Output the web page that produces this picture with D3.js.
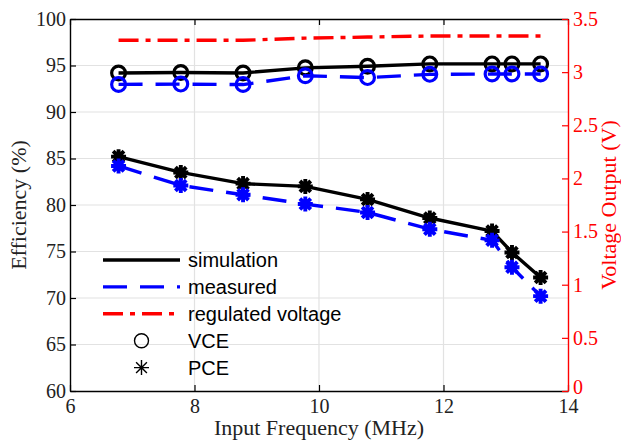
<!DOCTYPE html>
<html>
<head>
<meta charset="utf-8">
<script src="https://cdn.jsdelivr.net/npm/d3@7"></script>
<style>
  html, body { margin: 0; padding: 0; background: #fff; }
  svg { display: block; }
</style>
</head>
<body>
<svg id="chart" width="621" height="441"></svg>
<script>
// Input frequency (MHz)
const freq = [6.78, 7.78, 8.78, 9.78, 10.78, 11.78, 12.78, 13.1, 13.56];
// Voltage conversion efficiency (%)
const simVCE = [94.2, 94.25, 94.2, 94.75, 94.92, 95.17, 95.17, 95.17, 95.17];
const measVCE = [92.97, 93.0, 92.95, 93.9, 93.7, 94.05, 94.08, 94.08, 94.08];
// Power conversion efficiency (%)
const simPCE = [85.2, 83.5, 82.3, 82.0, 80.6, 78.6, 77.2, 74.9, 72.2];
const measPCE = [84.2, 82.1, 81.1, 80.1, 79.2, 77.4, 76.2, 73.3, 70.2];
// Regulated output voltage (V)
const voltage = [3.30, 3.30, 3.30, 3.32, 3.33, 3.34, 3.34, 3.34, 3.34];

const xTicks = [6, 8, 10, 12, 14];
const effTicks = [60, 65, 70, 75, 80, 85, 90, 95, 100];
const voltTicks = [0, 0.5, 1, 1.5, 2, 2.5, 3, 3.5];

const legendItems = ["simulation", "measured", "regulated voltage", "VCE", "PCE"];

const m = { left: 70, right: 568, top: 19, bottom: 391 };
const serif = "'Liberation Serif', 'Times New Roman', serif";
const sans = "'Liberation Sans', Arial, sans-serif";
const BLUE = "#0000ff", RED = "#ff0000";

const svg = d3.select("#chart");

const x = d3.scaleLinear().domain([6, 14]).range([m.left, m.right]);
const yL = d3.scaleLinear().domain([60, 100]).range([m.bottom, m.top]);
const yR = d3.scaleLinear().domain([0, 3.5]).range([m.bottom, m.top]);

// grid
const grid = svg.append("g").attr("stroke", "#e2e2e2").attr("stroke-width", 1.2);
grid.selectAll(".gx").data(xTicks.slice(1, -1)).enter().append("line")
  .attr("x1", d => x(d)).attr("x2", d => x(d))
  .attr("y1", m.top).attr("y2", m.bottom);
grid.selectAll(".gy").data(effTicks.slice(1, -1)).enter().append("line")
  .attr("x1", m.left).attr("x2", m.right)
  .attr("y1", d => yL(d)).attr("y2", d => yL(d));

// axes
function styleAxis(g, color, size) {
  g.selectAll("path.domain").attr("stroke", color).attr("stroke-width", 1.4);
  g.selectAll(".tick line").attr("stroke", color).attr("stroke-width", 1.2);
  g.selectAll(".tick text").attr("fill", color)
    .style("font-family", serif).style("font-size", size + "px");
}

const gBottom = svg.append("g").attr("transform", `translate(0,${m.bottom})`)
  .call(d3.axisBottom(x).tickValues(xTicks).tickFormat(d3.format("d"))
    .tickSizeInner(-6).tickSizeOuter(0).tickPadding(8));
styleAxis(gBottom, "#000", 20);
gBottom.selectAll(".tick text").attr("fill", "#222");

const gTop = svg.append("g").attr("transform", `translate(0,${m.top})`)
  .call(d3.axisTop(x).tickValues(xTicks).tickFormat("").tickSizeInner(-6).tickSizeOuter(0));
styleAxis(gTop, "#000", 20);

const gLeft = svg.append("g").attr("transform", `translate(${m.left},0)`)
  .call(d3.axisLeft(yL).tickValues(effTicks).tickFormat(d3.format("d"))
    .tickSizeInner(-6).tickSizeOuter(0).tickPadding(4));
styleAxis(gLeft, "#000", 20);
gLeft.selectAll(".tick text").attr("fill", "#222");

const gRight = svg.append("g").attr("transform", `translate(${m.right},0)`)
  .call(d3.axisRight(yR).tickValues(voltTicks).tickFormat(d3.format("~g"))
    .tickSizeInner(-6).tickSizeOuter(0).tickPadding(5));
styleAxis(gRight, RED, 20);
// the "0" label sits right at the bottom corner, above the "14" of the x axis
gRight.selectAll(".tick text").filter(d => d === 0).attr("dy", "0.1em");

// axis titles
svg.append("text").attr("x", (m.left + m.right) / 2).attr("y", 435)
  .attr("text-anchor", "middle").attr("fill", "#222")
  .style("font-family", serif).style("font-size", "22px")
  .text("Input Frequency (MHz)");
svg.append("text").attr("transform", `translate(26,${(m.top + m.bottom) / 2}) rotate(-90)`)
  .attr("text-anchor", "middle").attr("fill", "#222")
  .style("font-family", serif).style("font-size", "22px")
  .text("Efficiency (%)");
svg.append("text").attr("transform", `translate(616,${(m.top + m.bottom) / 2}) rotate(-90)`)
  .attr("text-anchor", "middle").attr("fill", RED)
  .style("font-family", serif).style("font-size", "22px")
  .text("Voltage Output (V)");

// markers
function circleMarker(g, cx, cy, color, r, sw) {
  g.append("circle").attr("cx", cx).attr("cy", cy).attr("r", r)
    .attr("fill", "none").attr("stroke", color).attr("stroke-width", sw);
}
function starMarker(g, cx, cy, color, r, sw) {
  const d = r * 0.72;
  const p = `M${cx - r},${cy}L${cx + r},${cy}M${cx},${cy - r}L${cx},${cy + r}` +
            `M${cx - d},${cy - d}L${cx + d},${cy + d}M${cx - d},${cy + d}L${cx + d},${cy - d}`;
  g.append("path").attr("d", p).attr("fill", "none").attr("stroke", color)
    .attr("stroke-width", sw).attr("stroke-linecap", "butt");
}

const plot = svg.append("g");
const LW = 3.4;
const DASH = "24,13";
const DASHDOT = "20,7,5,7";

function series(values, scale, color, dash, marker) {
  const line = d3.line().x((d, i) => x(freq[i])).y(d => scale(d));
  const g = plot.append("g");
  g.append("path").datum(values).attr("d", line)
    .attr("fill", "none").attr("stroke", color).attr("stroke-width", LW)
    .attr("stroke-dasharray", dash).attr("stroke-linejoin", "round");
  values.forEach((v, i) => {
    if (marker === "o") circleMarker(g, x(freq[i]), scale(v), color, 6.9, 3.2);
    if (marker === "*") starMarker(g, x(freq[i]), scale(v), color, 7.5, 3.9);
  });
}

series(simPCE, yL, "#000", null, "*");
series(measPCE, yL, BLUE, DASH, "*");
series(simVCE, yL, "#000", null, "o");
series(measVCE, yL, BLUE, DASH, "o");
series(voltage, yR, RED, DASHDOT, null);

// legend
const lg = svg.append("g");
const rowY = i => 260 + i * 26.9;
const lineStyles = [
  { color: "#000", dash: null },
  { color: BLUE, dash: DASH },
  { color: RED, dash: DASHDOT }
];
legendItems.forEach((label, i) => {
  const yy = rowY(i);
  if (i < 3) {
    lg.append("line").attr("x1", 103).attr("x2", 180).attr("y1", yy).attr("y2", yy)
      .attr("stroke", lineStyles[i].color).attr("stroke-width", LW)
      .attr("stroke-dasharray", lineStyles[i].dash);
  } else if (i === 3) {
    circleMarker(lg, 141.5, yy, "#000", 7, 1.4);
  } else {
    starMarker(lg, 141.5, yy, "#000", 7.5, 1.4);
  }
  lg.append("text").attr("x", 188).attr("y", yy + 7)
    .attr("fill", "#000").style("font-family", sans).style("font-size", "20px")
    .text(label);
});
</script>
</body>
</html>
